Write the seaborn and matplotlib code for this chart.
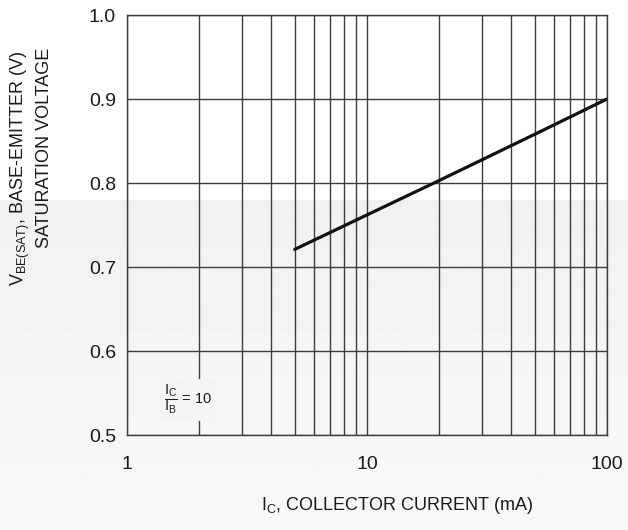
"""
Base-emitter saturation voltage vs collector current (datasheet style chart)
"""
import numpy as np
import pandas as pd
import matplotlib
matplotlib.use("Agg")
import matplotlib.pyplot as plt
from matplotlib.ticker import FixedLocator, NullFormatter
import seaborn as sns

# Curve (Ic/Ib = 10)
collector_current_ma = [5, 10, 20, 50, 100]
vbe_sat_v = [0.721, 0.762, 0.803, 0.858, 0.900]

x_ticks = [1, 10, 100]
x_tick_labels = ["1", "10", "100"]
y_ticks = [0.5, 0.6, 0.7, 0.8, 0.9, 1.0]
y_tick_labels = ["0.5", "0.6", "0.7", "0.8", "0.9", "1.0"]

GRID = "#3c3c3c"
TEXT = "#1a1a1a"

sns.set_style("white")
plt.rcParams["font.family"] = ["Liberation Sans", "DejaVu Sans"]
plt.rcParams["mathtext.fontset"] = "custom"
plt.rcParams["mathtext.rm"] = "Liberation Sans"
plt.rcParams["mathtext.it"] = "Liberation Sans"

df = pd.DataFrame({"ic": collector_current_ma, "vbe": vbe_sat_v})

fig = plt.figure(figsize=(6.28, 5.30), dpi=100)
fig.patch.set_facecolor("white")

# light gray band over the lower part of the page (scan artefact in reference)
band_top = 1 - 200 / 530
bg = fig.add_axes([0, 0, 1, band_top], zorder=0)
grad = np.linspace(0.945, 0.975, 256).reshape(-1, 1)
bg.imshow(grad, cmap="gray", vmin=0, vmax=1, aspect="auto", extent=[0, 1, 0, 1])
bg.set_axis_off()

ax = fig.add_axes([127 / 628, 1 - 435 / 530, 480 / 628, 420 / 530], zorder=1)
ax.set_facecolor("none")

sns.lineplot(data=df, x="ic", y="vbe", ax=ax, color="#111111", linewidth=2.3)

ax.set_xscale("log")
ax.set_xlim(1, 100)
ax.set_ylim(0.5, 1.0)

ax.xaxis.set_major_locator(FixedLocator(x_ticks))
ax.set_xticklabels(x_tick_labels)
ax.xaxis.set_minor_locator(FixedLocator([m * d for d in (1, 10) for m in range(2, 10)]))
ax.xaxis.set_minor_formatter(NullFormatter())
ax.set_yticks(y_ticks)
ax.set_yticklabels(y_tick_labels)

ax.grid(True, which="both", axis="x", color=GRID, linewidth=1.0)
ax.grid(True, which="major", axis="y", color=GRID, linewidth=1.0)
ax.set_axisbelow(True)
for s in ax.spines.values():
    s.set_color(GRID)
    s.set_linewidth(1.0)

ax.tick_params(which="both", length=0, labelsize=14, colors=TEXT)
ax.tick_params(axis="x", pad=15)
ax.tick_params(axis="y", pad=8)
ax.set_xlabel("")
ax.set_ylabel("")

# axis titles
fig.text(397 / 628, 1 - 505 / 530, r"I$_\mathregular{C}$, COLLECTOR CURRENT (mA)",
         ha="center", va="center", fontsize=13, color=TEXT)
fig.text(20 / 628, 1 - 168 / 530, r"V$_\mathregular{BE(SAT)}$, BASE-EMITTER (V)",
         ha="center", va="center", rotation=90, fontsize=13, color=TEXT)
fig.text(45 / 628, 1 - 148 / 530, "SATURATION VOLTAGE",
         ha="center", va="center", rotation=90, fontsize=13, color=TEXT)

# ratio note
ax.text(1.42, 0.542, r"$\dfrac{\mathregular{I_C}}{\mathregular{I_B}}$ = 10",
        ha="left", va="center", fontsize=10.5, color=TEXT,
        bbox=dict(facecolor="#f4f4f4", edgecolor="none", pad=3))

fig.savefig("out.png", dpi=100)
